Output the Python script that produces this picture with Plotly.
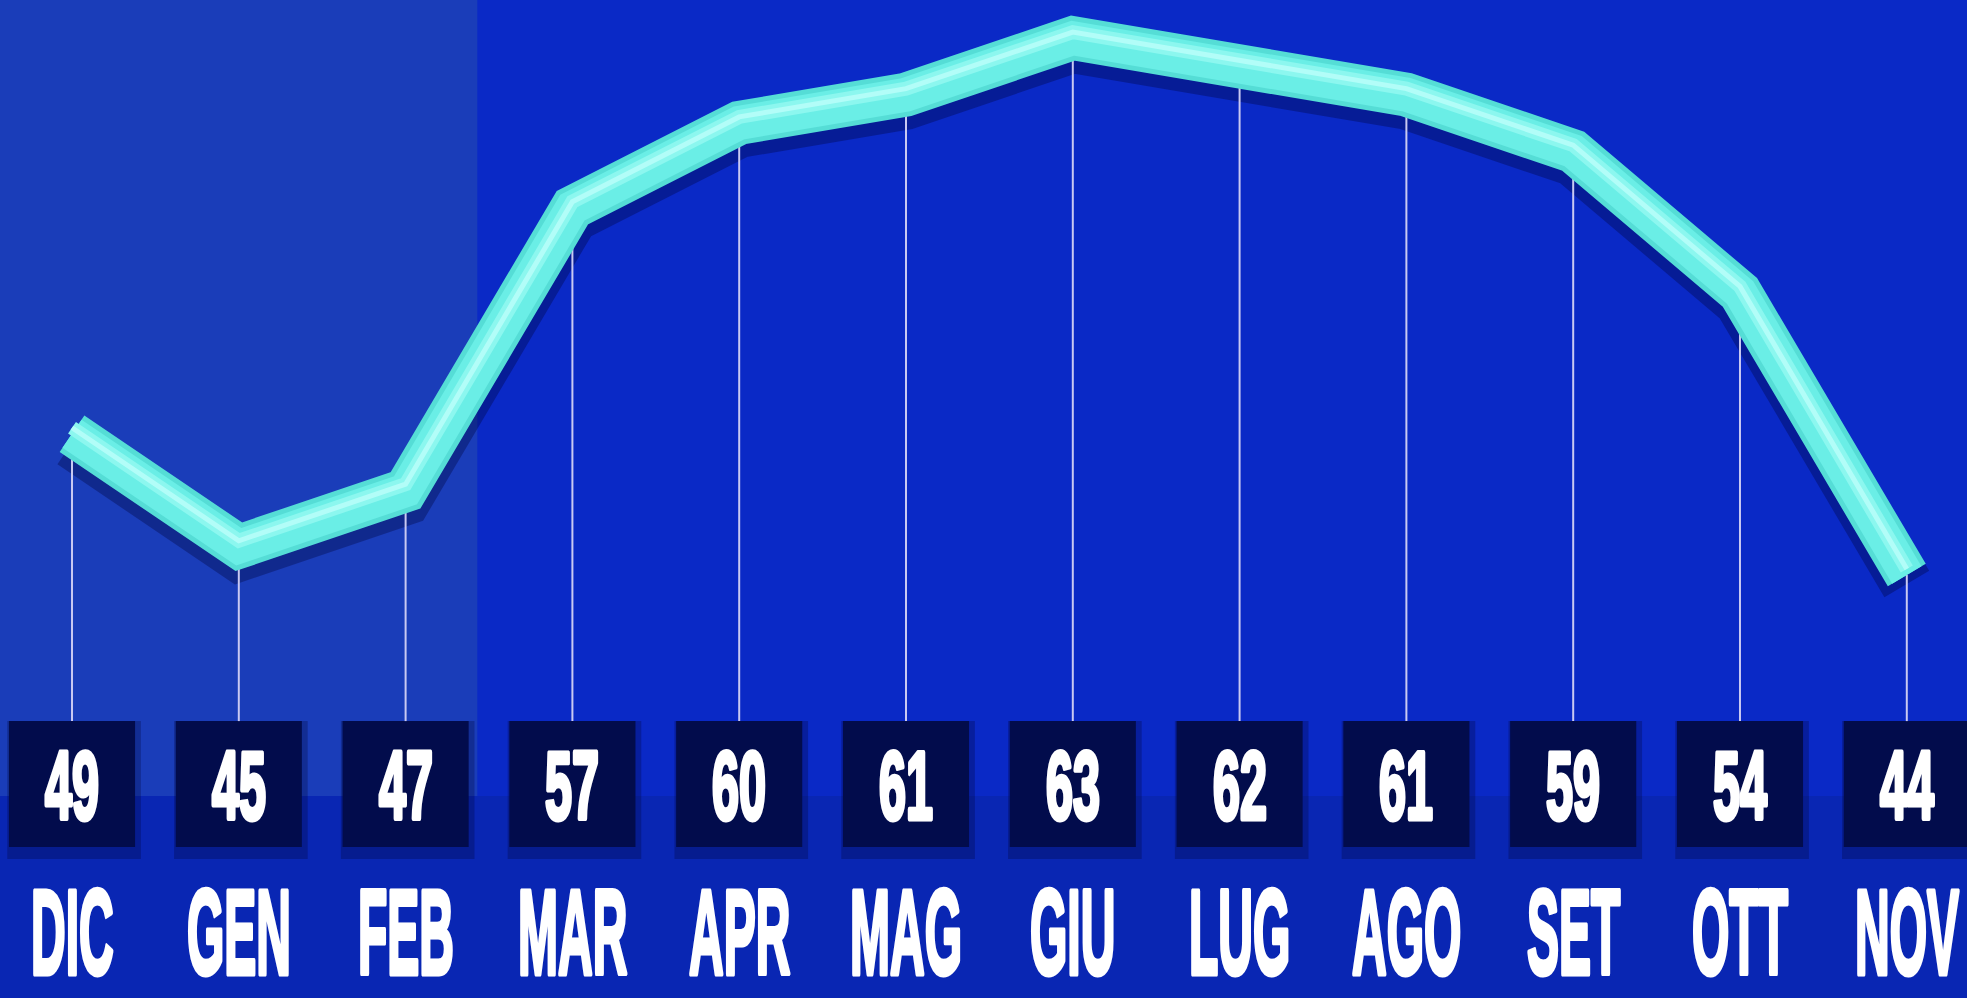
import plotly.graph_objects as go

# ---------------- data ----------------
months = ["DIC", "GEN", "FEB", "MAR", "APR", "MAG", "GIU", "LUG", "AGO", "SET", "OTT", "NOV"]
values = [49, 45, 47, 57, 60, 61, 63, 62, 61, 59, 54, 44]

# ---------------- layout constants ----------------
W, H = 1967, 998
Y_RANGE = [29.03, 64.35]
X_RANGE = [-0.4317, 11.361]
PX_PER_UNIT = H / (Y_RANGE[1] - Y_RANGE[0])
BOX_TOP = 38.83          # where the value boxes start (data units)
BOX_Y0, BOX_Y1 = 0.1513, 0.2776   # paper
BAND_TOP = 0.2024        # paper, top of the dark bottom band
WINTER_END = 2.43        # x (data) where the lighter winter panel ends
BOX_HALF = 0.378

BG_MAIN = "#0a29c6"
BG_WINTER = "#1a3db9"
BG_BAND = "#0926b3"
BOX_COLOR = "#020c4c"
STEM_COLOR = "#c9c9f2"

x = list(range(len(months)))


def shifted(px):
    d = px / PX_PER_UNIT
    return [Y_RANGE[0] + d, Y_RANGE[1] + d]


fig = go.Figure()

# shadow of the tube (main y axis, drawn first, shifted down)
fig.add_trace(go.Scatter(x=x, y=values, mode="lines", yaxis="y",
                         line=dict(color="rgba(0,5,60,0.35)", width=52), hoverinfo="skip"))

# stems from each point down to its value box
sx, sy = [], []
for xi, v in zip(x, values):
    sx += [xi, xi, None]
    sy += [v, BOX_TOP, None]
fig.add_trace(go.Scatter(x=sx, y=sy, mode="lines", yaxis="y2",
                         line=dict(color=STEM_COLOR, width=2), hoverinfo="skip"))

# tube body and core
fig.add_trace(go.Scatter(x=x, y=values, mode="lines", yaxis="y2",
                         line=dict(color="#55ddd6", width=44), hoverinfo="skip"))
fig.add_trace(go.Scatter(x=x, y=values, mode="lines", yaxis="y2",
                         line=dict(color="#6aeee6", width=34), hoverinfo="skip"))
# highlight (slightly above centre)
fig.add_trace(go.Scatter(x=x, y=values, mode="lines", yaxis="y3",
                         line=dict(color="#8cf7ef", width=14), hoverinfo="skip"))
fig.add_trace(go.Scatter(x=x, y=values, mode="lines", yaxis="y3",
                         line=dict(color="#b2fdf8", width=5), hoverinfo="skip"))

shapes = [
    dict(type="rect", xref="paper", yref="paper", x0=0, x1=1, y0=0, y1=BAND_TOP,
         fillcolor=BG_BAND, line=dict(width=0), layer="below"),
    dict(type="rect", xref="x", yref="paper", x0=X_RANGE[0], x1=WINTER_END, y0=BAND_TOP, y1=1,
         fillcolor=BG_WINTER, line=dict(width=0), layer="below"),
]
for xi in x:
    shapes.append(dict(type="rect", xref="x", yref="paper",
                       x0=xi - BOX_HALF - 0.01, x1=xi + BOX_HALF + 0.035,
                       y0=BOX_Y0 - 0.012, y1=BOX_Y1,
                       fillcolor="rgba(0,4,50,0.28)", line=dict(width=0), layer="below"))
    shapes.append(dict(type="rect", xref="x", yref="paper",
                       x0=xi - BOX_HALF, x1=xi + BOX_HALF, y0=BOX_Y0, y1=BOX_Y1,
                       fillcolor=BOX_COLOR, line=dict(width=0), layer="below"))

annotations = []
for xi, m, v in zip(x, months, values):
    annotations.append(dict(x=xi, y=(BOX_Y0 + BOX_Y1) / 2 - 0.002, xref="x", yref="paper",
                            text=str(v), showarrow=False, xanchor="center", yanchor="middle",
                            font=dict(family="Liberation Sans", size=97, color="white",
                                      weight="bold")))
    annotations.append(dict(x=xi, y=0.066, xref="x", yref="paper",
                            text=m, showarrow=False, xanchor="center", yanchor="middle",
                            font=dict(family="Liberation Sans", size=120, color="white",
                                      weight="bold")))

fig.update_layout(
    width=W, height=H,
    margin=dict(l=0, r=0, t=0, b=0),
    paper_bgcolor=BG_MAIN, plot_bgcolor=BG_MAIN,
    showlegend=False, hovermode=False,
    xaxis=dict(range=X_RANGE, visible=False, fixedrange=True),
    yaxis=dict(range=shifted(9), visible=False, fixedrange=True),
    yaxis2=dict(range=Y_RANGE, overlaying="y", visible=False, fixedrange=True),
    yaxis3=dict(range=shifted(-6), overlaying="y", visible=False, fixedrange=True),
    shapes=shapes,
    annotations=annotations,
)

# condensed look: squeeze each label horizontally around its own centre
post = """
(function(){
  document.body.style.margin = '0';
  document.body.style.overflow = 'hidden';
  var gd = document.getElementById('{plot_id}');
  gd.querySelectorAll('text.annotation-text').forEach(function(t){
    var fs = parseFloat(t.style.fontSize);
    var k = fs > 110 ? 0.40 : 0.50;
    var cx = parseFloat(t.getAttribute('x') || 0);
    var tr = 'translate(' + cx + ',0) scale(' + k + ',1) translate(' + (-cx) + ',0)';
    t.setAttribute('transform', tr);
    t.style.stroke = '#ffffff';
    t.style.strokeWidth = '5px';
    t.style.strokeLinejoin = 'round';
    t.style.paintOrder = 'stroke';
    var bg = t.parentNode ? t.parentNode.querySelector('rect.bg') : null;
    if (bg) { bg.setAttribute('transform', tr); }
  });
  gd.querySelectorAll('.scatterlayer path.js-line').forEach(function(p){
    p.style.strokeLinejoin = 'miter';
    p.style.strokeMiterlimit = '4';
  });
})();
"""

fig.write_html("out.html", post_script=post, config={"staticPlot": True})
